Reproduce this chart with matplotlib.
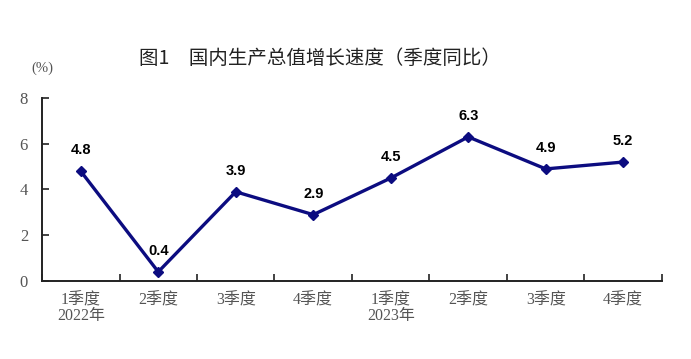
import matplotlib.pyplot as plt

quarters = ["1季度\n2022年", "2季度", "3季度", "4季度", "1季度\n2023年", "2季度", "3季度", "4季度"]
growth = [4.8, 0.4, 3.9, 2.9, 4.5, 6.3, 4.9, 5.2]
yticks = [0, 2, 4, 6, 8]

LINE = "#0c0c80"
GREY = "#555555"
CJK = ["Noto Sans CJK SC", "DejaVu Sans"]
SERIF = ["Liberation Serif", "Noto Sans CJK SC"]

fig = plt.figure(figsize=(6.91, 3.59), dpi=100)
ax = fig.add_axes([0.0608, 0.2173, 0.8972, 0.5097])

x = list(range(len(growth)))
ax.plot(x, growth, color=LINE, lw=2.4, marker="D", markersize=5.5, zorder=3)
for xi, v in zip(x, growth):
    ax.annotate(f"{v}", (xi, v), xytext=(0, 10), textcoords="offset points",
                ha="center", va="bottom", fontsize=10.5, fontweight="bold",
                family="Liberation Sans", color="black")

ax.set_xlim(-0.5, len(growth) - 0.5)
ax.set_ylim(0, 8)
ax.set_yticks(yticks)
ax.set_yticklabels([str(t) for t in yticks], family=SERIF, fontsize=12, color=GREY)
ax.set_xticks(x)
ax.set_xticklabels(quarters, family=SERIF, fontsize=11.5, color=GREY, linespacing=1.0)
ax.tick_params(axis="x", length=0, pad=8)
ax.set_xticks([i - 0.5 for i in range(len(growth) + 1)], minor=True)
ax.tick_params(axis="x", which="minor", direction="in", length=5, width=1.2, color="#222222")
ax.tick_params(axis="y", direction="in", length=5, width=1.2, color="#222222", pad=10)

for s in ["top", "right"]:
    ax.spines[s].set_visible(False)
for s in ["left", "bottom"]:
    ax.spines[s].set_linewidth(1.4)
    ax.spines[s].set_color("#222222")

fig.text(0.061, 0.81, "(%)", family=SERIF, fontsize=10.5, color=GREY, ha="center", va="center")
fig.text(0.463, 0.838, "图1　国内生产总值增长速度（季度同比）", family=CJK,
         fontsize=14, fontweight="medium", color="#222222", ha="center", va="center")

fig.savefig("out.png", dpi=100)
